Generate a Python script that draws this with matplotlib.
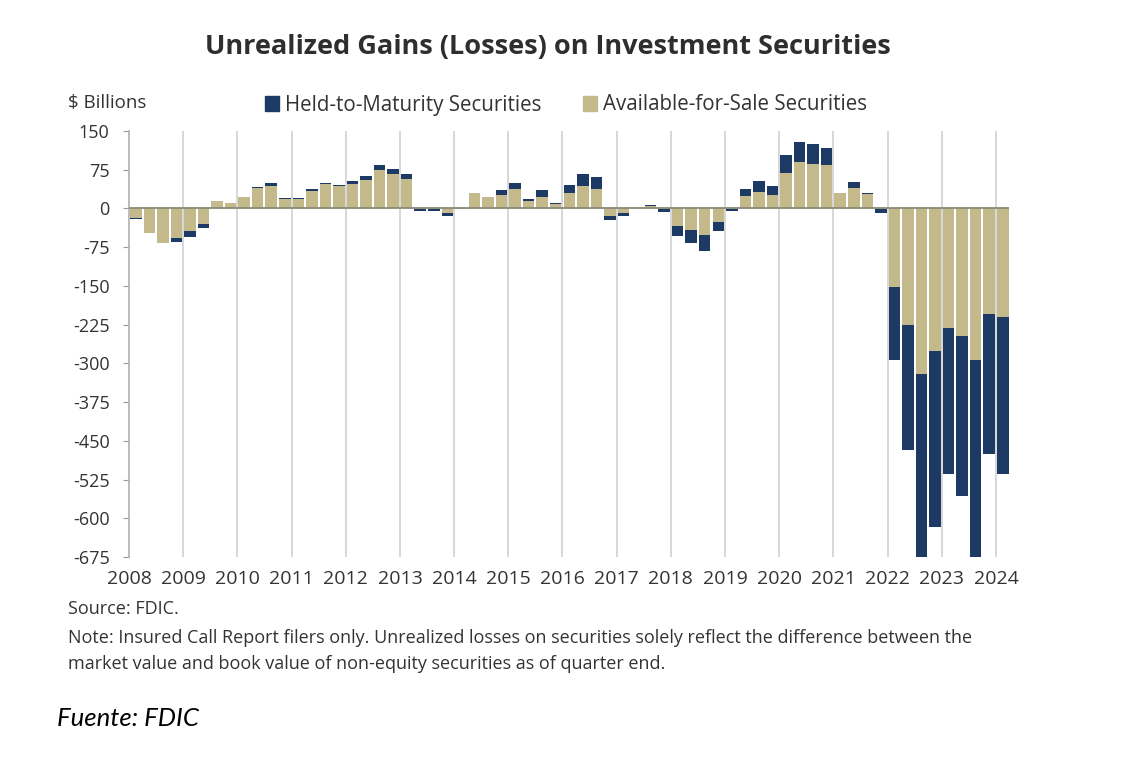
import matplotlib
matplotlib.use('Agg')
import matplotlib.pyplot as plt
from matplotlib.patches import Patch

plt.rcParams['font.family'] = ['Open Sans', 'DejaVu Sans']

# quarterly values, $ billions, 2008 Q1 .. 2024 Q1
YEARS = list(range(2008, 2025))
AFS = [-19, -47, -66, -57,
       -43, -30, 14, 10,
       22, 39, 44, 18,
       19, 34, 47, 44,
       47, 56, 74, 66,
       57, -2, -2, -8,
       -1, 29, 22, 26,
       38, 14, 23, 8,
       30, 43, 38, -14,
       -9, 1, 5, -2,
       -34, -41, -51, -27,
       -1, 24, 31, 27,
       68, 90, 86, 84,
       29, 39, 28, -2,
       -152, -226, -321, -276,
       -231, -247, -294, -204,
       -211]
HTM = [-1, -1, -1, -7,
       -12, -8, 0.5, 0,
       1, 2, 6, 2,
       0.5, 4, 3, 2,
       7, 7, 10, 10,
       9, -3, -3, -7,
       -1, 1, 1, 10,
       12, 5, 12, 2,
       16, 24, 22, -8,
       -5, 0, 1, -4,
       -19, -25, -32, -17,
       -3, 13, 22, 16,
       35, 39, 38, 34,
       1, 13, 2, -6,
       -142, -241, -369, -340,
       -284, -310, -390, -272,
       -304]
YTICKS = [150, 75, 0, -75, -150, -225, -300, -375, -450, -525, -600, -675]

NAVY = '#1c3a63'
TAN = '#c4b98a'
GREY = '#333333'

fig = plt.figure(figsize=(11.3, 7.62), dpi=100)
ax = fig.add_axes([129 / 1130, 1 - 557 / 762, 880 / 1130, 426 / 762])

x = [2008 + (i + 0.5) / 4 for i in range(len(AFS))]
w = 0.85 / 4
ax.bar(x, AFS, width=w, color=TAN, zorder=3)
ax.bar(x, HTM, width=w, bottom=AFS, color=NAVY, zorder=3)

for yr in YEARS[1:]:
    ax.axvline(yr, color='#d4d4d4', lw=1.3, zorder=1)
ax.axhline(0, color='#8a8a7a', lw=1.3, zorder=4)

ax.set_xlim(2008, 2024.24)
ax.set_ylim(-675, 150)
ax.set_yticks(YTICKS)
ax.set_yticklabels([str(t) for t in YTICKS])
ax.set_xticks(YEARS)
ax.set_xticklabels([str(y) for y in YEARS])
ax.tick_params(axis='y', length=4, color='#9a9a9a', pad=10,
               labelsize=13, labelcolor=GREY)
ax.tick_params(axis='x', length=0, pad=9, labelsize=14, labelcolor=GREY)
for s in ('top', 'right', 'bottom'):
    ax.spines[s].set_visible(False)
ax.spines['left'].set_color('#b0b0b0')
ax.spines['left'].set_linewidth(1.2)

fig.text(548 / 1130, 1 - 47 / 762,
         'Unrealized Gains (Losses) on Investment Securities',
         ha='center', va='center', fontsize=19.5, fontweight='bold',
         color='#2e2e2e')
fig.text(68 / 1130, 1 - 103 / 762, '$ Billions', ha='left', va='center',
         fontsize=13.5, color=GREY)
handles = [Patch(color=NAVY, label='Held-to-Maturity Securities'),
           Patch(color=TAN, label='Available-for-Sale Securities')]
fig.legend(handles=handles, loc='center', ncol=2, frameon=False,
           bbox_to_anchor=(566 / 1130, 1 - 105 / 762), fontsize=14.8,
           handlelength=0.7, handleheight=0.7, handletextpad=0.3,
           columnspacing=2.0, labelcolor=GREY)

fig.text(68 / 1130, 1 - 609 / 762, 'Source: FDIC.', ha='left', va='center',
         fontsize=13, color=GREY)
fig.text(68 / 1130, 1 - 638 / 762,
         'Note: Insured Call Report filers only. Unrealized losses on '
         'securities solely reflect the difference between the',
         ha='left', va='center', fontsize=13, color=GREY)
fig.text(68 / 1130, 1 - 664 / 762,
         'market value and book value of non-equity securities as of '
         'quarter end.', ha='left', va='center', fontsize=13, color=GREY)
fig.text(57 / 1130, 1 - 718 / 762, 'Fuente: FDIC', ha='left', va='center',
         fontsize=18.5, fontstyle='italic', family=['Lato', 'DejaVu Sans'],
         color='black')

fig.savefig('out.png', dpi=100)
